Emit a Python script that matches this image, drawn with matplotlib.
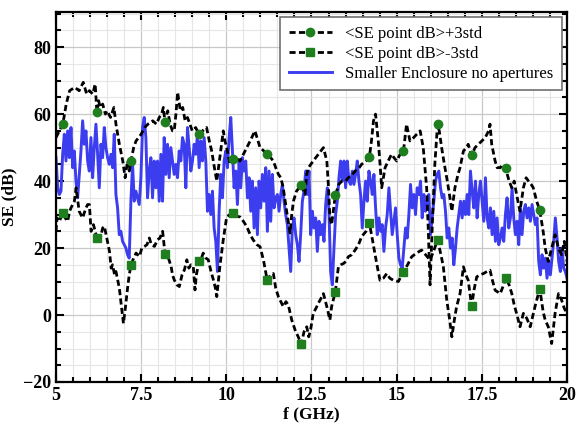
import numpy as np
import matplotlib.pyplot as plt
from matplotlib.ticker import MultipleLocator

# <SE point dB>+3std, (f GHz, SE dB)
upper = [(5.0, 53), (5.1, 55), (5.2, 57), (5.3, 63), (5.4, 67), (5.55, 68), (5.68, 67), (5.8, 69.5),
         (5.9, 66), (5.98, 67), (6.08, 66), (6.15, 69), (6.2, 60.5), (6.25, 64), (6.3, 62), (6.37, 63),
         (6.45, 60), (6.5, 61), (6.6, 59), (6.7, 62), (6.76, 57), (6.86, 51), (6.96, 46), (7.03, 41),
         (7.1, 46), (7.15, 43), (7.2, 46), (7.28, 50), (7.35, 52), (7.5, 54), (7.6, 56), (7.7, 57),
         (7.84, 58), (7.95, 57), (8.03, 59), (8.1, 60), (8.15, 62), (8.2, 57.6), (8.28, 61), (8.35, 57),
         (8.42, 55), (8.47, 55), (8.52, 60), (8.57, 66.5), (8.65, 61), (8.72, 62), (8.79, 58), (8.86, 59),
         (8.93, 57), (9.0, 55), (9.1, 56), (9.2, 54), (9.3, 55), (9.42, 56), (9.5, 52), (9.57, 49),
         (9.65, 44), (9.72, 40), (9.81, 47), (9.91, 55), (9.96, 52), (10.01, 50), (10.11, 45), (10.2, 46.5),
         (10.3, 47), (10.4, 46), (10.5, 48), (10.6, 50), (10.7, 52), (10.84, 55), (10.9, 53), (10.99, 50),
         (11.1, 49), (11.2, 48), (11.3, 47), (11.38, 46), (11.45, 44), (11.53, 42), (11.6, 41), (11.67, 38),
         (11.77, 31), (11.87, 24.5), (11.92, 30), (11.97, 34), (12.06, 37), (12.2, 38.8), (12.31, 36),
         (12.36, 42), (12.41, 44), (12.55, 46), (12.7, 48), (12.85, 50), (12.95, 46), (13.0, 38), (13.04, 29),
         (13.09, 27), (13.2, 35.8), (13.3, 39), (13.39, 40), (13.5, 40), (13.58, 41), (13.7, 42), (13.78, 43),
         (13.9, 44), (13.97, 45), (14.1, 46), (14.2, 47.2), (14.26, 52), (14.32, 58), (14.38, 60), (14.46, 52),
         (14.52, 44), (14.56, 38), (14.66, 44), (14.75, 46), (14.85, 48), (14.92, 47), (15.0, 46), (15.1, 48),
         (15.2, 49), (15.29, 57), (15.39, 52), (15.5, 53), (15.59, 54), (15.69, 55), (15.78, 50), (15.88, 38),
         (15.93, 25), (15.98, 9), (16.05, 28), (16.12, 45), (16.2, 57), (16.25, 55), (16.32, 50), (16.4, 45),
         (16.47, 41), (16.55, 36), (16.62, 31), (16.71, 38), (16.8, 42), (16.86, 44), (16.96, 49), (17.05, 50),
         (17.1, 51), (17.2, 47.7), (17.3, 50), (17.4, 51), (17.5, 52), (17.6, 53), (17.7, 55), (17.74, 57),
         (17.79, 51), (17.85, 48), (17.89, 46), (17.95, 44), (18.04, 44), (18.12, 45), (18.2, 43.8), (18.3, 40),
         (18.38, 38), (18.45, 40), (18.52, 36), (18.62, 31), (18.72, 38), (18.8, 41), (18.87, 40), (18.95, 39),
         (19.01, 38), (19.11, 34), (19.2, 31.3), (19.3, 25), (19.36, 20), (19.45, 16), (19.55, 20), (19.65, 24),
         (19.75, 20), (19.84, 18), (19.92, 22), (20.0, 16)]

# <SE point dB>-3std
lower = [(5.0, 25), (5.03, 29), (5.1, 28), (5.2, 30.5), (5.27, 29), (5.34, 28), (5.4, 31), (5.44, 32),
         (5.54, 34), (5.59, 38), (5.64, 34), (5.68, 31), (5.78, 29), (5.88, 32), (5.93, 33), (5.98, 33),
         (6.03, 25), (6.1, 27), (6.2, 23), (6.28, 22), (6.37, 26), (6.42, 26.5), (6.47, 24), (6.57, 19),
         (6.62, 14), (6.66, 15), (6.72, 12), (6.76, 13), (6.86, 8), (6.91, 3.5), (6.98, -2.5), (7.04, 2.5),
         (7.1, 8), (7.15, 12), (7.2, 15), (7.28, 17), (7.35, 18.5), (7.45, 17.5), (7.52, 20), (7.6, 20.5),
         (7.67, 21), (7.74, 23), (7.8, 21), (7.89, 20.5), (7.98, 22.5), (8.05, 23), (8.13, 25), (8.2, 18.3),
         (8.3, 17), (8.38, 14.5), (8.42, 12), (8.47, 10.5), (8.55, 9), (8.62, 8.5), (8.7, 12), (8.77, 13.5),
         (8.84, 16.5), (8.9, 14), (8.96, 15), (9.03, 14.5), (9.08, 7.5), (9.12, 12), (9.2, 16), (9.27, 17),
         (9.32, 18.5), (9.4, 17), (9.47, 16.5), (9.55, 13), (9.62, 10.5), (9.68, 8), (9.72, 5.5), (9.81, 14.5),
         (9.91, 22.5), (10.01, 29.3), (10.1, 30), (10.2, 30.5), (10.3, 29.5), (10.4, 29.3), (10.5, 28),
         (10.6, 26.4), (10.7, 24), (10.79, 22.4), (10.9, 21), (10.99, 20.4), (11.09, 16.4), (11.2, 10.4),
         (11.3, 12), (11.38, 12.4), (11.45, 8), (11.53, 5.4), (11.6, 4), (11.67, 2.5), (11.75, 4), (11.82, 3),
         (11.92, -1.5), (12.02, -4.5), (12.11, -6.5), (12.2, -8.7), (12.28, -5), (12.36, -3.5), (12.42, -6.5),
         (12.48, -4), (12.55, 0.5), (12.63, 2), (12.7, 3.5), (12.78, 5), (12.85, 6.4), (12.95, 2.5),
         (13.04, -1.5), (13.09, 2.5), (13.2, 7), (13.29, 14.4), (13.36, 15), (13.44, 15.4), (13.51, 16),
         (13.58, 17.4), (13.68, 18), (13.78, 19.4), (13.88, 21), (13.97, 23.4), (14.1, 25), (14.2, 27.4),
         (14.28, 23), (14.36, 18.4), (14.44, 14), (14.51, 10.4), (14.61, 11), (14.71, 12.4), (14.8, 11),
         (14.9, 10.4), (15.05, 10), (15.2, 13), (15.32, 15), (15.44, 17.4), (15.58, 18.5), (15.73, 19.4),
         (15.85, 18), (15.98, 16.4), (16.08, 19), (16.2, 22.4), (16.3, 18), (16.37, 14.4), (16.47, 4.5),
         (16.55, -1), (16.62, -6.5), (16.7, -1), (16.76, 2.5), (16.86, 6.4), (16.96, 14.4), (17.03, 12),
         (17.1, 10.4), (17.2, 2.7), (17.28, 8), (17.35, 11.4), (17.45, 12), (17.55, 12.4), (17.65, 13),
         (17.74, 13.4), (17.82, 10), (17.89, 7.4), (18.04, 6.4), (18.14, 9), (18.2, 11.2), (18.3, 9),
         (18.38, 6.4), (18.45, 3), (18.52, 0.5), (18.62, -3.5), (18.72, 0.5), (18.82, -1), (18.92, -3.5),
         (19.06, 2.5), (19.2, 7.9), (19.3, 1), (19.36, -1.5), (19.45, -3.5), (19.55, -8.5), (19.65, 0.5),
         (19.75, 6.4), (19.84, 4.5), (19.92, 2), (20.0, 0.5)]

# frequencies carrying the green markers
f_marks = [5.2, 6.2, 7.2, 8.2, 9.2, 10.2, 11.2, 12.2, 13.2, 14.2, 15.2, 16.2, 17.2, 18.2, 19.2]

# Smaller Enclosure no apertures, evenly sampled 5..20 GHz
se_blue = [47, 38, 36, 37, 48, 54, 46, 55, 47, 56, 44, 49, 40, 35, 42, 49, 58, 51, 55, 46,
           43, 53, 41, 50, 57, 48, 38, 51, 47, 56, 50, 47, 45, 48, 44, 54, 36, 32, 24, 25,
           22, 21, 20, 18, 17, 34, 45, 34, 37, 35, 33, 41, 56, 59, 53, 35, 43, 47, 35, 46,
           38, 46, 34, 48, 34, 53, 42, 51, 41, 50, 46, 42, 45, 41, 49, 46, 53, 51,
           38, 56, 50, 43, 46, 51, 48, 54, 44, 52, 46, 53, 46, 31, 36, 30, 37, 26, 22, 13,
           31, 42, 35, 46, 49, 44, 53, 59, 49, 38, 43, 33, 46, 38, 47, 43, 46, 35, 41, 31,
           40, 26, 38, 24, 40, 32, 42, 34, 44, 25, 43, 28, 42, 32, 35, 36, 31, 36, 39, 34,
           30, 27, 20, 13, 26, 29, 24, 21, 16, 24, 34, 37, 43, 36, 43,
           24, 31, 26, 29, 19, 28, 24, 27, 22, 33, 38, 31, 13, 9, 20, 30, 34, 41, 46, 40,
           46, 38, 46, 40, 39, 43, 39, 42, 46, 40, 36, 26, 34, 40, 34, 43, 40, 36, 42, 32,
           24, 29, 25, 27, 19, 26, 30, 38, 31, 24, 28, 32, 24, 17, 15, 14, 20, 26, 23, 30,
           39, 32, 36, 30, 38, 36, 40, 29, 36, 31, 34, 36, 24, 29, 34,
           40, 42, 43, 38, 35, 36, 31, 23, 26, 20, 23, 15, 20, 26, 30, 34, 29, 34, 30, 36,
           30, 43, 37, 32, 40, 29, 36, 40, 34, 28, 41, 29, 26, 32, 24, 31, 22, 29, 21, 23,
           26, 22, 30, 35, 26, 29, 38, 29, 24, 28, 21, 32, 24, 31, 33, 29, 32, 28, 33, 30,
           27, 29, 16, 12, 18, 14, 17, 11, 16, 12, 17, 22, 29, 23, 16, 13, 20, 14, 13, 11]
f_blue = np.linspace(5, 20, len(se_blue))

f_up, se_up = zip(*upper)
f_lo, se_lo = zip(*lower)
mk_up = [f_up.index(f) for f in f_marks]
mk_lo = [f_lo.index(f) for f in f_marks]

plt.rcParams['font.family'] = ['Liberation Serif', 'DejaVu Serif']

fig = plt.figure(figsize=(5.77, 4.34), dpi=100)
ax = fig.add_axes([56 / 577, 1 - 382 / 434, 511 / 577, 370 / 434])

ax.plot(f_up, se_up, color='black', lw=2, dashes=(2.2, 1.2), marker='o', ms=6,
        mfc='#1f7f1f', mec='#1f7f1f', markevery=mk_up, label='<SE point dB>+3std', zorder=3)
ax.plot(f_lo, se_lo, color='black', lw=2, dashes=(2.2, 1.2), marker='s', ms=6,
        mfc='#1f7f1f', mec='#1f7f1f', markevery=mk_lo, label='<SE point dB>-3std', zorder=3)
ax.plot(f_blue, se_blue, color='#3d3df0', lw=2.1, label='Smaller Enclosure no apertures', zorder=2)

ax.set_xlim(5, 20)
ax.set_ylim(-20, 90.5)
ax.xaxis.set_major_locator(MultipleLocator(2.5))
ax.xaxis.set_minor_locator(MultipleLocator(0.5))
ax.yaxis.set_major_locator(MultipleLocator(20))
ax.yaxis.set_minor_locator(MultipleLocator(5))
ax.xaxis.set_major_formatter(plt.FuncFormatter(lambda v, p: '%g' % v))

ax.grid(True, which='major', color='#c8c8c8', lw=0.9)
ax.grid(True, which='minor', color='#e6e6e6', lw=0.8)
ax.set_axisbelow(True)

ax.tick_params(which='both', direction='in', top=True, right=True, width=1.5)
ax.tick_params(which='major', length=6, labelsize=13)
ax.tick_params(which='minor', length=3.5)
for lab in ax.get_xticklabels() + ax.get_yticklabels():
    lab.set_fontweight('bold')
for sp in ax.spines.values():
    sp.set_linewidth(1.6)

ax.set_xlabel('f (GHz)', fontsize=12.5, fontweight='bold', labelpad=2)
ax.set_ylabel('SE (dB)', fontsize=12.5, fontweight='bold', labelpad=4)

leg = ax.legend(loc='upper right', fontsize=12, frameon=True, fancybox=False,
                edgecolor='#707070', framealpha=1, handlelength=2.6, borderpad=0.5,
                labelspacing=0.25, borderaxespad=0, bbox_to_anchor=(0.99, 0.986))
leg.get_frame().set_linewidth(1.2)

fig.savefig('out.png', dpi=100)
